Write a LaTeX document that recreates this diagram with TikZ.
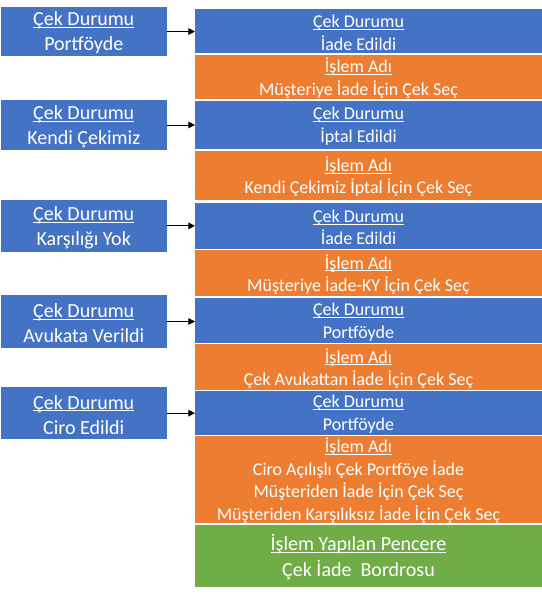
\documentclass[tikz,border=0pt]{standalone}
\usepackage{fontspec}
\setmainfont{Carlito}
\usetikzlibrary{arrows.meta}
\definecolor{cblue}{HTML}{4472C4}
\definecolor{corange}{HTML}{ED7D31}
\definecolor{cgreen}{HTML}{70AD47}
\newlength\hdlen
\newcommand{\hd}[1]{\settowidth\hdlen{#1}\rlap{\rule[-1.6pt]{\hdlen}{0.6pt}}#1}
\begin{document}
\begin{tikzpicture}[x=0.75pt,y=-0.75pt,
 box/.style={anchor=north west, inner sep=0pt, outer sep=0pt, draw=none},
 lbox/.style={box, fill=cblue, minimum width=166.5*0.75pt},
 rbox/.style={box, minimum width=347*0.75pt},
 ltxt/.style={text=white, align=center, font=\fontsize{15}{18.75}\selectfont, inner sep=0pt, yshift=-1.2pt},
 rtxt/.style={text=white, align=center, font=\fontsize{13.5}{17}\selectfont, inner sep=0pt, yshift=-1.1pt},
 arr/.style={-{Triangle[length=5pt,width=5pt]}, line width=0.7pt, black}]
\useasboundingbox (0,0) rectangle (542,596);
\coordinate (tx) at (358.5,0);
% left boxes
\node[lbox, minimum height=48.4*0.75pt] (l1) at (0.5,7.3) {};
\node[ltxt] (lt1) at (l1.center) {\hd{Çek Durumu}\\Portföyde};
\node[lbox, minimum height=50*0.75pt] (l2) at (0.5,100) {};
\node[ltxt] (lt2) at (l2.center) {\hd{Çek Durumu}\\Kendi Çekimiz};
\node[lbox, minimum height=51.7*0.75pt] (l3) at (0.5,200) {};
\node[ltxt] (lt3) at (l3.center) {\hd{Çek Durumu}\\Karşılığı Yok};
\node[lbox, minimum height=52.4*0.75pt] (l4) at (0.5,295.3) {};
\node[ltxt] (lt4) at (l4.center) {\hd{Çek Durumu}\\Avukata Verildi};
\node[lbox, minimum height=51.7*0.75pt] (l5) at (0.5,387.3) {};
\node[ltxt] (lt5) at (l5.center) {\hd{Çek Durumu}\\Ciro Edildi};
% right blue boxes
\node[rbox, fill=cblue, minimum height=44.3*0.75pt] (b1) at (195,9) {};
\node[rtxt] (bt1) at (b1.center -| tx) {\hd{Çek Durumu}\\İade Edildi};
\node[rbox, fill=cblue, minimum height=48.6*0.75pt] (b2) at (195,100.7) {};
\node[rtxt] (bt2) at (b2.center -| tx) {\hd{Çek Durumu}\\İptal Edildi};
\node[rbox, fill=cblue, minimum height=46.6*0.75pt] (b3) at (195,202.7) {};
\node[rtxt] (bt3) at (b3.center -| tx) {\hd{Çek Durumu}\\İade Edildi};
\node[rbox, fill=cblue, minimum height=45*0.75pt] (b4) at (195,298.3) {};
\node[rtxt] (bt4) at (b4.center -| tx) {\hd{Çek Durumu}\\Portföyde};
\node[rbox, fill=cblue, minimum height=44*0.75pt] (b5) at (195,391) {};
\node[rtxt] (bt5) at (b5.center -| tx) {\hd{Çek Durumu}\\Portföyde};
% right orange boxes
\node[rbox, fill=corange, minimum height=44.3*0.75pt] (o1) at (195,54.5) {};
\node[rtxt] (ot1) at (o1.center -| tx) {\hd{İşlem Adı}\\Müşteriye İade İçin Çek Seç};
\node[rbox, fill=corange, minimum height=49.5*0.75pt] (o2) at (195,150.5) {};
\node[rtxt] (ot2) at (o2.center -| tx) {\hd{İşlem Adı}\\Kendi Çekimiz İptal İçin Çek Seç};
\node[rbox, fill=corange, minimum height=46.3*0.75pt] (o3) at (195,249.9) {};
\node[rtxt] (ot3) at (o3.center -| tx) {\hd{İşlem Adı}\\Müşteriye İade-KY İçin Çek Seç};
\node[rbox, fill=corange, minimum height=46.3*0.75pt] (o4) at (195,343.9) {};
\node[rtxt] (ot4) at (o4.center -| tx) {\hd{İşlem Adı}\\Çek Avukattan İade İçin Çek Seç};
\node[rbox, fill=corange, minimum height=87.5*0.75pt] (o5) at (195,435.5) {};
\node[rtxt] (ot5) at (o5.center -| tx) {\hd{İşlem Adı}\\Ciro Açılışlı Çek Portföye İade\\Müşteriden İade İçin Çek Seç\\Müşteriden Karşılıksız İade İçin Çek Seç};
% green box
\node[rbox, fill=cgreen, minimum height=62*0.75pt] (g) at (195,524.7) {};
\node[ltxt, font=\fontsize{15}{19.3}\selectfont] (gt) at (g.center -| tx) {\hd{İşlem Yapılan Pencere}\\Çek İade\ \ Bordrosu};
% arrows
\draw[arr] (l1.east) -- (l1.east -| b1.west);
\draw[arr] (l2.east) -- (l2.east -| b2.west);
\draw[arr] (l3.east) -- (l3.east -| b3.west);
\draw[arr] (l4.east) -- (l4.east -| b4.west);
\draw[arr] (l5.east) -- (l5.east -| b5.west);
\end{tikzpicture}
\end{document}
